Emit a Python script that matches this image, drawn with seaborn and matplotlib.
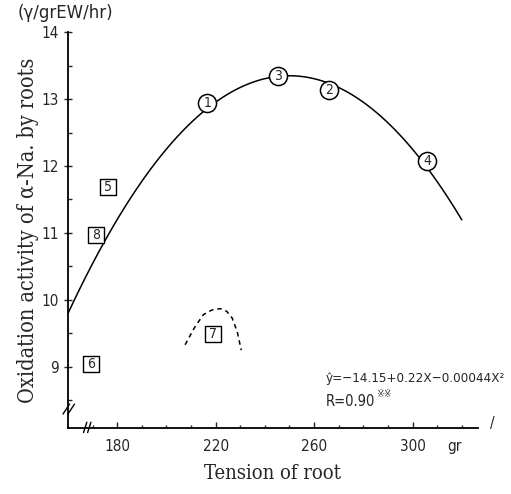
import seaborn as sns
import matplotlib.pyplot as plt
import pandas as pd
from matplotlib import transforms

# regression curve (gr, gamma/grEW/hr)
curve_x = [160, 170, 180, 190, 200, 210, 220, 230, 240, 250, 260, 270, 280, 290, 300, 310, 320]
curve_y = [9.79, 10.56, 11.21, 11.75, 12.25, 12.65, 12.95, 13.17, 13.31, 13.35, 13.31, 13.17,
           12.95, 12.65, 12.25, 11.77, 11.19]

# numbered points on the curve (circles)
circ_lab = ['1', '3', '2', '4']
circ_x = [216.6, 245.4, 266.2, 306.0]
circ_y = [12.94, 13.34, 13.13, 12.07]

# numbered points off the curve (squares)
sq_lab = ['5', '8', '6', '7']
sq_x = [176.3, 171.5, 169.4, 219.0]
sq_y = [11.69, 10.97, 9.04, 9.49]

# dashed curve around point 7
dash_x = [207.6, 211.3, 215.0, 218.5, 221.9, 224.5, 226.7, 228.8, 230.4]
dash_y = [9.33, 9.58, 9.78, 9.85, 9.87, 9.83, 9.73, 9.52, 9.25]

x_ticks = [180, 220, 260, 300]
y_ticks = [9, 10, 11, 12, 13, 14]

sns.set_style('ticks')
plt.rcParams['font.family'] = ['DejaVu Sans']
plt.rcParams['font.stretch'] = 'condensed'

fig = plt.figure(figsize=(5.11, 4.94), dpi=100)
ax = fig.add_axes([0.133, 0.134, 0.802, 0.801])

curve = pd.DataFrame({'x': curve_x, 'y': curve_y})
sns.regplot(data=curve, x='x', y='y', order=2, ci=None, scatter=False, truncate=True,
            line_kws={'color': 'black', 'lw': 1.1}, ax=ax)

dash = pd.DataFrame({'x': dash_x, 'y': dash_y})
sns.lineplot(data=dash, x='x', y='y', sort=False, color='black', lw=1.1,
             linestyle=(0, (3, 2.5)), ax=ax)

circ = pd.DataFrame({'x': circ_x, 'y': circ_y, 'lab': circ_lab})
sns.scatterplot(data=circ, x='x', y='y', marker='o', s=170, facecolor='white',
                edgecolor='black', linewidth=1.1, zorder=3, ax=ax)
for _, r in circ.iterrows():
    ax.text(r.x, r.y, r.lab, ha='center', va='center', fontsize=10, zorder=4)

sq = pd.DataFrame({'x': sq_x, 'y': sq_y, 'lab': sq_lab})
sns.scatterplot(data=sq, x='x', y='y', marker='s', s=125, facecolor='white',
                edgecolor='black', linewidth=1.0, zorder=3, ax=ax)
for _, r in sq.iterrows():
    ax.text(r.x, r.y, r.lab, ha='center', va='center', fontsize=10, zorder=4)

ax.set_xlim(160, 326.5)
ax.set_ylim(8.09, 14.0)
ax.set_xticks(x_ticks)
ax.set_xticks(range(170, 330, 10), minor=True)
ax.set_yticks(y_ticks)
ax.set_yticks([8.5, 9.5, 10.5, 11.5, 12.5, 13.5], minor=True)
ax.tick_params(axis='x', which='major', direction='in', length=4, width=1, labelsize=11, pad=8)
ax.tick_params(axis='x', which='minor', direction='in', length=2, width=1)
ax.tick_params(axis='y', which='major', direction='inout', length=6, width=1, labelsize=11)
ax.tick_params(axis='y', which='minor', direction='in', length=3, width=1)
sns.despine(ax=ax)
for s in ['left', 'bottom']:
    ax.spines[s].set_linewidth(1.3)
    ax.spines[s].set_color('black')

ax.set_xlabel('Tension of root', family='DejaVu Serif', fontsize=14.5, labelpad=7)
ax.set_ylabel('Oxidation activity of α-Na. by roots', family='DejaVu Serif', fontsize=15.5,
              labelpad=2)

ax.text(-0.122, 1.048, '(γ/grEW/hr)', transform=ax.transAxes, fontsize=12, ha='left',
        va='center', fontstretch='normal')
ax.text(314, 8.09, 'gr', fontsize=11, ha='left', va='top',
        transform=ax.transData + transforms.ScaledTranslation(0, -8 / 72, fig.dpi_scale_trans))

ax.text(0.628, 0.124, 'ŷ=−14.15+0.22X−0.00044X²', transform=ax.transAxes, fontsize=9.6,
        ha='left', va='center')
ax.text(0.628, 0.066, 'R=0.90', transform=ax.transAxes, fontsize=10.5, ha='left', va='center')
ax.text(0.752, 0.086, '※※', transform=ax.transAxes, fontsize=7.5, ha='left', va='center')

# axis break marks
kw = dict(transform=ax.transAxes, color='black', lw=1.0, clip_on=False)
for dx in (0.0, 0.012):
    ax.plot([-0.012 + dx, 0.004 + dx], [0.035, 0.06], **kw)
for dx in (0.0, 0.01):
    ax.plot([0.038 + dx, 0.046 + dx], [-0.012, 0.014], **kw)
ax.text(1.035, 0.01, '/', transform=ax.transAxes, fontsize=11, ha='center', va='center')

fig.savefig('out.png', dpi=100)
